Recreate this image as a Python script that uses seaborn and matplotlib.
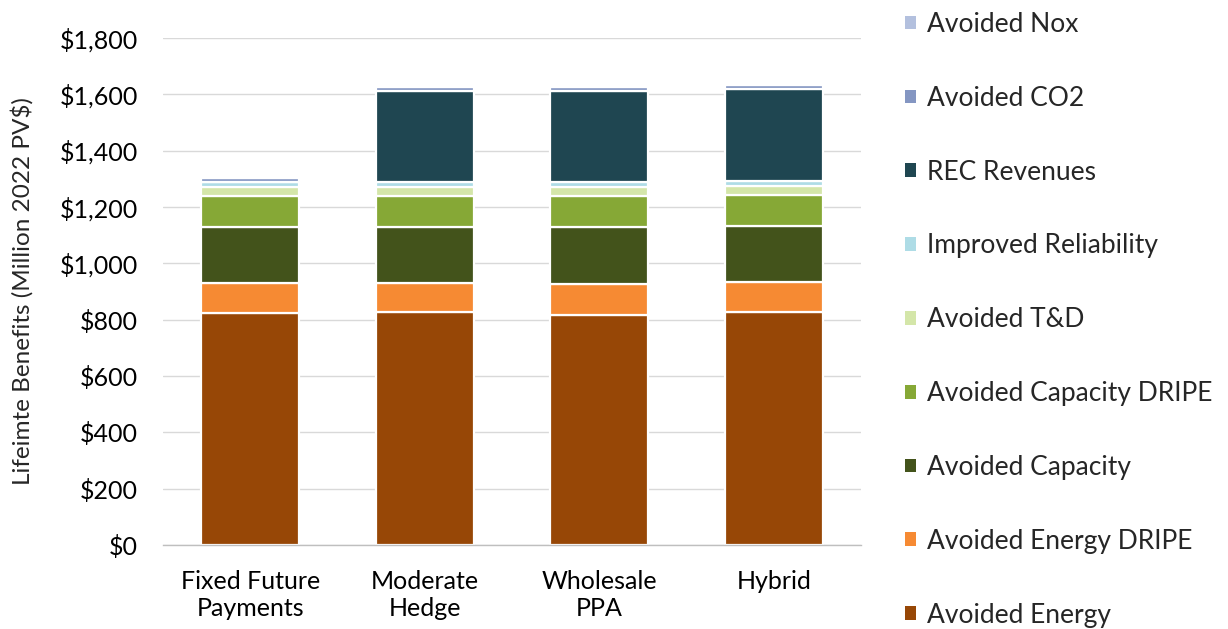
import matplotlib
matplotlib.use("Agg")
import matplotlib.pyplot as plt
from matplotlib.patches import Patch
from matplotlib.ticker import FuncFormatter
import numpy as np
import pandas as pd
import seaborn as sns

scenarios = ["Fixed Future\nPayments", "Moderate\nHedge", "Wholesale\nPPA", "Hybrid"]

# Benefit components, bottom of the stack first (million 2022 PV$)
avoided_energy = [825, 826, 818, 826]
avoided_energy_dripe = [105, 103, 107, 107]
avoided_capacity = [200, 201, 204, 200]
avoided_capacity_dripe = [108, 109, 109, 109]
avoided_td = [33, 31, 34, 32]
improved_reliability = [17, 18, 17, 17]
rec_revenues = [0, 323, 323, 328]
avoided_co2 = [14, 14, 14, 14]
avoided_nox = [3, 4, 4, 4]

components = [
    ("Avoided Energy", avoided_energy, "#974706"),
    ("Avoided Energy DRIPE", avoided_energy_dripe, "#F68A33"),
    ("Avoided Capacity", avoided_capacity, "#43531B"),
    ("Avoided Capacity DRIPE", avoided_capacity_dripe, "#86A836"),
    ("Avoided T&D", avoided_td, "#D4E6A9"),
    ("Improved Reliability", improved_reliability, "#AEDCE6"),
    ("REC Revenues", rec_revenues, "#1F4651"),
    ("Avoided CO2", avoided_co2, "#8496C2"),
    ("Avoided Nox", avoided_nox, "#B3C0DE"),
]

sns.set_theme(style="white")
plt.rcParams["font.family"] = ["Lato", "DejaVu Sans"]

fig = plt.figure(figsize=(12.28, 6.29), dpi=100)
ax = fig.add_axes([163 / 1228, 1 - 545 / 629, 698 / 1228, 507 / 629])

bottom = np.zeros(len(scenarios))
for name, values, color in components:
    df = pd.DataFrame({"scenario": scenarios, "value": values})
    sns.barplot(data=df, x="scenario", y="value", order=scenarios, color=color,
                width=0.56, bottom=bottom, edgecolor="white", linewidth=1.6,
                errorbar=None, ax=ax, saturation=1)
    bottom = bottom + np.array(values)

ax.set_xlim(-0.5, 3.5)
ax.set_ylim(0, 1800)
ax.set_yticks(np.arange(0, 1801, 200))
ax.yaxis.set_major_formatter(FuncFormatter(lambda v, p: f"${v:,.0f}"))
ax.yaxis.grid(True, color="#D9D9D9", linewidth=1.0)
ax.set_axisbelow(True)
for side in ["left", "right", "top"]:
    ax.spines[side].set_visible(False)
ax.spines["bottom"].set_color("#BFBFBF")
ax.spines["bottom"].set_linewidth(1.0)
ax.tick_params(axis="y", length=0, pad=18, labelsize=18, colors="#000000")
ax.tick_params(axis="x", length=0, pad=18, labelsize=18, colors="#000000")
ax.set_xlabel("")
ax.set_ylabel("Lifeimte Benefits (Million 2022 PV$)", fontsize=17.5, labelpad=19)

handles = [Patch(facecolor=c, edgecolor="none") for _, _, c in components][::-1]
labels = [n for n, _, _ in components][::-1]
fig.legend(handles, labels, loc="upper left", bbox_to_anchor=(905 / 1228, 1 - 12 / 629),
           frameon=False, fontsize=19, labelspacing=1.85, handlelength=0.42,
           handleheight=0.42, handletextpad=0.42, borderaxespad=0, borderpad=0)

fig.savefig("out.png", dpi=100)
